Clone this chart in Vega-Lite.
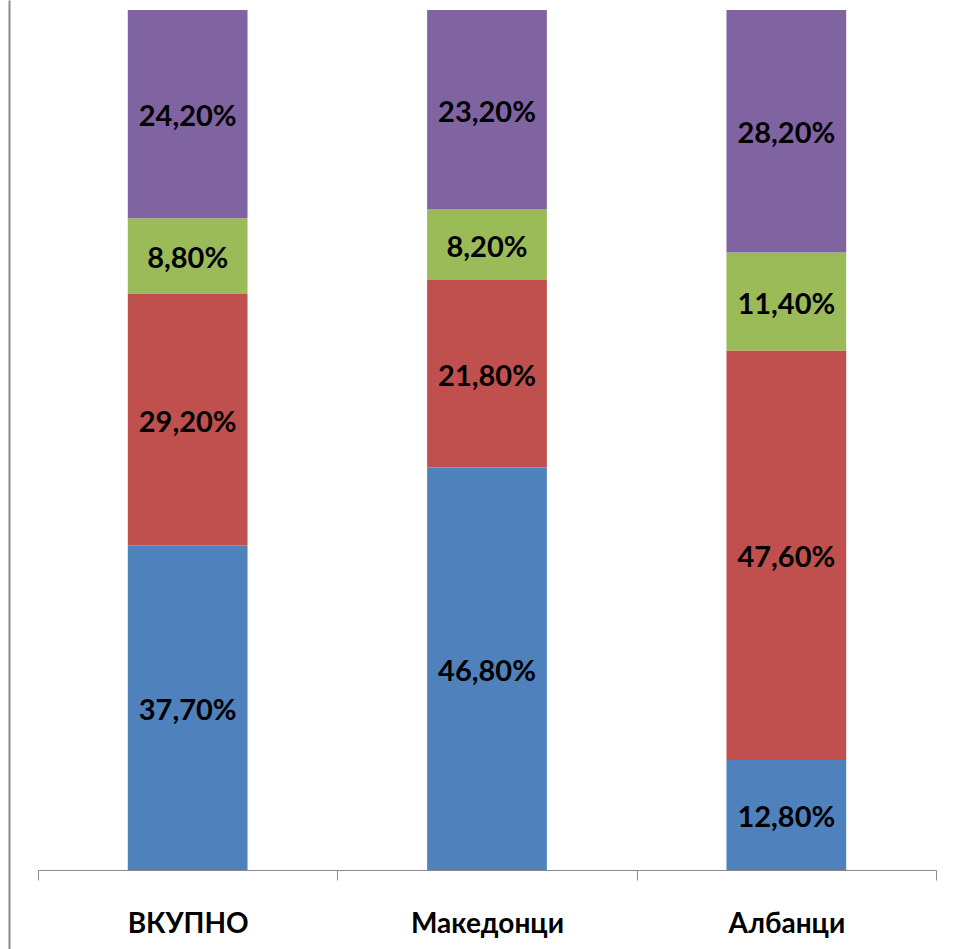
{
  "$schema": "https://vega.github.io/schema/vega-lite/v6.json",
  "width": 898,
  "height": 949,
  "autosize": {"type": "none"},
  "padding": {"left": 38, "top": 0, "right": 20, "bottom": 0},
  "background": "white",
  "config": {
    "view": {"stroke": null},
    "locale": {"number": {"decimal": ",", "thousands": ".", "grouping": [3], "currency": ["", " ден."]}}
  },
  "data": {
    "values": [
      {"group": "ВКУПНО", "answer": "Категорија 1", "k": 1, "share": 0.377},
      {"group": "ВКУПНО", "answer": "Категорија 2", "k": 2, "share": 0.292},
      {"group": "ВКУПНО", "answer": "Категорија 3", "k": 3, "share": 0.088},
      {"group": "ВКУПНО", "answer": "Категорија 4", "k": 4, "share": 0.242},
      {"group": "Македонци", "answer": "Категорија 1", "k": 1, "share": 0.468},
      {"group": "Македонци", "answer": "Категорија 2", "k": 2, "share": 0.218},
      {"group": "Македонци", "answer": "Категорија 3", "k": 3, "share": 0.082},
      {"group": "Македонци", "answer": "Категорија 4", "k": 4, "share": 0.232},
      {"group": "Албанци", "answer": "Категорија 1", "k": 1, "share": 0.128},
      {"group": "Албанци", "answer": "Категорија 2", "k": 2, "share": 0.476},
      {"group": "Албанци", "answer": "Категорија 3", "k": 3, "share": 0.114},
      {"group": "Албанци", "answer": "Категорија 4", "k": 4, "share": 0.282}
    ]
  },
  "encoding": {
    "x": {
      "field": "group",
      "type": "nominal",
      "sort": ["ВКУПНО", "Македонци", "Албанци"],
      "scale": {"paddingInner": 0, "paddingOuter": 0},
      "axis": {
        "title": null,
        "orient": "bottom",
        "offset": -79,
        "tickBand": "extent",
        "domainColor": "#898989",
        "domainWidth": 1,
        "tickColor": "#898989",
        "tickWidth": 1,
        "tickSize": 10,
        "labelAngle": 0,
        "labelFont": "Lato, Open Sans",
        "labelFontWeight": "bold",
        "labelFontSize": 28,
        "labelColor": "black",
        "labelBaseline": "alphabetic",
        "labelPadding": 52
      }
    },
    "y": {
      "field": "share",
      "type": "quantitative",
      "stack": "normalize",
      "scale": {"domain": [-0.0919, 1.0116], "nice": false, "zero": false},
      "axis": {
        "title": null,
        "labels": false,
        "ticks": false,
        "grid": false,
        "domain": true,
        "domainColor": "#898989",
        "domainWidth": 2,
        "offset": 29
      }
    },
    "order": {"field": "k", "type": "quantitative"}
  },
  "layer": [
    {
      "mark": {"type": "bar", "width": {"band": 0.4}},
      "encoding": {
        "color": {
          "field": "answer",
          "type": "nominal",
          "scale": {
            "domain": ["Категорија 1", "Категорија 2", "Категорија 3", "Категорија 4"],
            "range": ["#4F81BD", "#C0504D", "#9BBB59", "#8064A2"]
          },
          "legend": null
        }
      }
    },
    {
      "mark": {"type": "text", "font": "Lato, Open Sans", "fontWeight": "bold", "fontSize": 29, "baseline": "middle", "align": "center", "dy": 3, "color": "black"},
      "encoding": {
        "y": {
          "field": "share",
          "type": "quantitative",
          "stack": "normalize",
          "bandPosition": 0.5,
          "scale": {"domain": [-0.0919, 1.0116], "nice": false, "zero": false}
        },
        "detail": {"field": "answer"},
        "text": {"field": "share", "type": "quantitative", "format": ".2%"}
      }
    }
  ]
}
